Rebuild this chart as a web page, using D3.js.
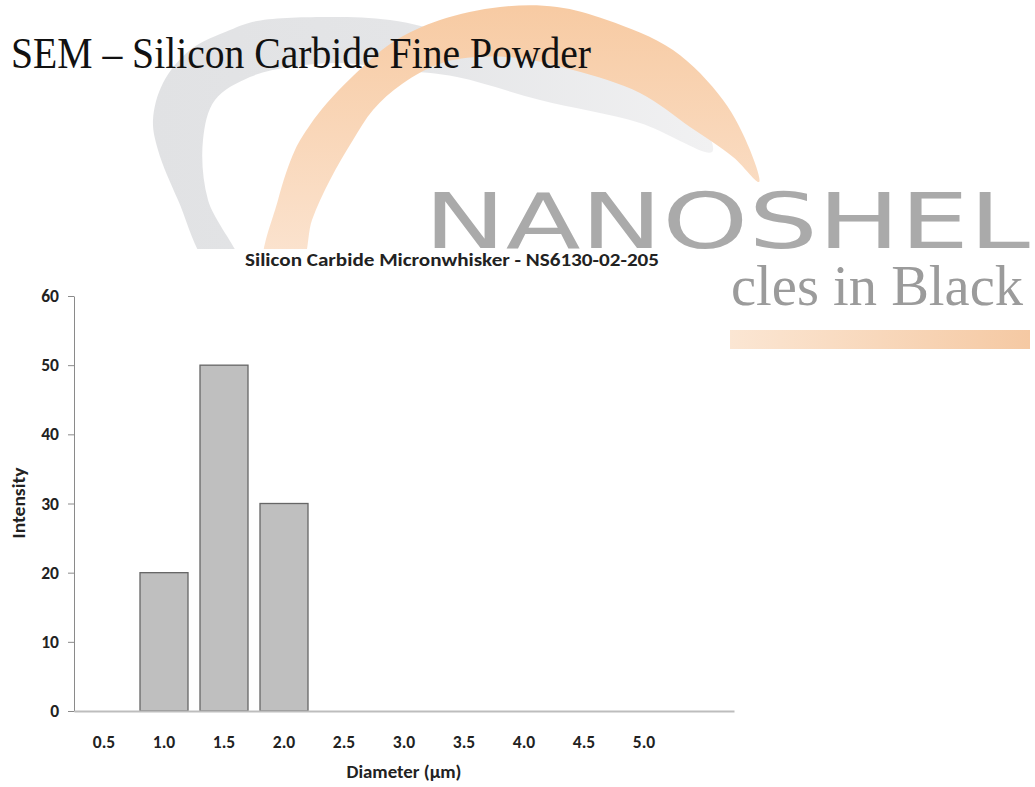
<!DOCTYPE html>
<html><head><meta charset="utf-8">
<script src="https://cdn.jsdelivr.net/npm/d3@7"></script>
<style>body{margin:0;background:#fff;} svg{display:block;}</style>
</head><body>
<svg id="c" width="1035" height="787"></svg>
<script>
// ---- data ----
const categories = ["0.5","1.0","1.5","2.0","2.5","3.0","3.5","4.0","4.5","5.0",""];
const intensity  = [0, 20, 50, 30, 0, 0, 0, 0, 0, 0, 0];
const yTicks     = [0, 10, 20, 30, 40, 50, 60];
const pageTitle  = "SEM – Silicon Carbide Fine Powder";
const chartTitle = "Silicon Carbide Micronwhisker - NS6130-02-205";
const xLabel = "Diameter (µm)";
const yLabel = "Intensity";
const brandName = "NANOSHEL";
const brandTag  = "cles in Black";

// ---- watermark (decoration) outlines ----
const grayShape = [[210,266],[178,200],[158,150],[153,120],[163,83],[190,50],[230,30],[257,21],[330,17],[390,20],
  [460,35],[560,55],[650,85],[705,128],[712,152],
  [640,123],[540,100],[457,77],[400,70],[340,63],[290,67],[250,77],[215,100],[203,140],[208,200],[240,266]];
const orangeShape = [[265,266],[278,200],[295,150],[310,125],[327,103],[353,76],[393,42],[440,20],[500,7],[557,7],
  [607,20],[673,50],[723,100],[750,150],[759,182],
  [733,157],[690,127],[640,93],[573,70],[507,57],[445,62],[402,84],[373,110],[353,140],[330,180],[312,220],[300,266]];

const svg = d3.select("#c");
const defs = svg.append("defs");
const og = defs.append("linearGradient").attr("id","og").attr("gradientUnits","userSpaceOnUse")
  .attr("x1",0).attr("y1",0).attr("x2",0).attr("y2",260);
og.append("stop").attr("offset","0%").attr("stop-color","#f7caa2");
og.append("stop").attr("offset","100%").attr("stop-color","#fbe3cf");
const gg = defs.append("linearGradient").attr("id","gg").attr("gradientUnits","userSpaceOnUse")
  .attr("x1",150).attr("y1",0).attr("x2",712).attr("y2",0);
gg.append("stop").attr("offset","0%").attr("stop-color","#e1e2e4");
gg.append("stop").attr("offset","45%").attr("stop-color","#e4e5e7");
gg.append("stop").attr("offset","100%").attr("stop-color","#f1f1f2");
const bg = defs.append("linearGradient").attr("id","bg").attr("x1",0).attr("y1",0).attr("x2",1).attr("y2",0);
bg.append("stop").attr("offset","0%").attr("stop-color","#fbe6d3");
bg.append("stop").attr("offset","100%").attr("stop-color","#f5c9a3");

const shapeLine = d3.line().curve(d3.curveCatmullRomClosed.alpha(0.5));
svg.append("path").attr("d", shapeLine(grayShape)).attr("fill","url(#gg)");
svg.append("path").attr("d", shapeLine(orangeShape)).attr("fill","url(#og)");

svg.append("text").text(brandName)
  .attr("x",424).attr("y",248).attr("textLength",606).attr("lengthAdjust","spacingAndGlyphs")
  .attr("font-family","DejaVu Sans, sans-serif").attr("font-size",76).attr("fill","#aaaaaa");
svg.append("text").text(brandTag)
  .attr("x",731).attr("y",305).attr("textLength",292).attr("lengthAdjust","spacingAndGlyphs")
  .attr("font-family","Liberation Serif, serif").attr("font-size",57).attr("fill","#9b9b9b");
svg.append("rect").attr("x",730).attr("y",330).attr("width",300).attr("height",19).attr("fill","url(#bg)");

svg.append("text").text(pageTitle)
  .attr("x",11).attr("y",68).attr("textLength",580).attr("lengthAdjust","spacingAndGlyphs")
  .attr("font-family","Liberation Serif, Times New Roman, serif").attr("font-size",45).attr("fill","#111");

// chart panel (white background covering watermark)
svg.append("rect").attr("x",0).attr("y",249).attr("width",729).attr("height",538).attr("fill","#fff");

const margin = {left:74, right:734, top:296, bottom:711};
const x = d3.scaleBand().domain(categories).range([margin.left, margin.right]).paddingInner(0.2).paddingOuter(0.1);
const y = d3.scaleLinear().domain([0,60]).range([margin.bottom, margin.top]);

const font = "Carlito, Lato, 'Open Sans', sans-serif";

svg.append("text").text(chartTitle)
  .attr("x",452).attr("y",266).attr("text-anchor","middle").attr("textLength",414).attr("lengthAdjust","spacingAndGlyphs")
  .attr("font-family",font).attr("font-weight","bold").attr("font-size",17).attr("fill","#222");

// y axis
const yAxis = svg.append("g").attr("transform",`translate(${margin.left},0)`)
  .call(d3.axisLeft(y).tickValues(yTicks).tickSize(6).tickPadding(9).tickSizeOuter(0));
yAxis.select(".domain").attr("stroke","#8a8a8a").attr("stroke-width",1);
yAxis.selectAll(".tick line").attr("stroke","#8a8a8a");
yAxis.selectAll(".tick text").attr("font-family",font).attr("font-weight","bold").attr("font-size",17.5).attr("fill","#222");

// bars
svg.append("g").selectAll("rect").data(categories.map((c,i)=>({c, v:intensity[i]})).filter(d=>d.v>0))
  .join("rect")
  .attr("x",d=>x(d.c)).attr("y",d=>y(d.v))
  .attr("width",x.bandwidth()).attr("height",d=>y(0)-y(d.v))
  .attr("fill","#bfbfbf").attr("stroke","#666").attr("stroke-width",1.3);

// x axis
const xAxis = svg.append("g").attr("transform",`translate(0,${margin.bottom})`)
  .call(d3.axisBottom(x).tickSize(0).tickPadding(25).tickSizeOuter(0));
xAxis.select(".domain").attr("stroke","#bdbdbd").attr("stroke-width",2);
xAxis.selectAll(".tick text").attr("font-family",font).attr("font-weight","bold").attr("font-size",17.5).attr("fill","#222");

svg.append("text").text(xLabel)
  .attr("x",(margin.left+margin.right)/2).attr("y",778).attr("text-anchor","middle")
  .attr("textLength",115).attr("lengthAdjust","spacingAndGlyphs")
  .attr("font-family",font).attr("font-weight","bold").attr("font-size",17).attr("fill","#222");
svg.append("text").text(yLabel)
  .attr("transform",`translate(25,503) rotate(-90)`).attr("text-anchor","middle")
  .attr("textLength",71).attr("lengthAdjust","spacingAndGlyphs")
  .attr("font-family",font).attr("font-weight","bold").attr("font-size",17).attr("fill","#222");
</script>
</body></html>
